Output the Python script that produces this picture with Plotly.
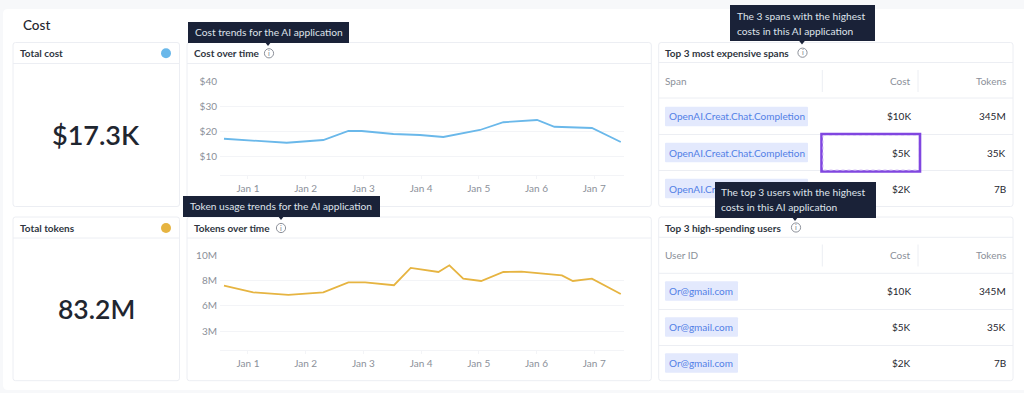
import plotly.graph_objects as go

FONT = "Lato"
W, H = 1024, 393

# ---- data ----
day_ticks = [1, 2, 3, 4, 5, 6, 7]
day_labels = ["Jan 1", "Jan 2", "Jan 3", "Jan 4", "Jan 5", "Jan 6", "Jan 7"]

cost_days = [0.584, 1.67, 2.305, 2.74, 2.97, 3.52, 3.98, 4.385, 5.02, 5.425, 6.01, 6.31, 6.96, 7.46]
cost_values = [16.9, 15.3, 16.4, 20.0, 20.0, 18.8, 18.4, 17.6, 20.4, 23.5, 24.4, 21.7, 21.2, 15.6]
cost_ticks = [10, 20, 30, 40]
cost_tick_labels = ["$10", "$20", "$30", "$40"]

token_days = [0.584, 1.09, 1.70, 2.305, 2.74, 3.03, 3.53, 3.82, 4.30, 4.49, 4.73, 5.04, 5.425, 5.74, 6.44, 6.63, 6.96, 7.46]
token_values = [7.0, 6.34, 6.08, 6.34, 7.33, 7.33, 7.04, 8.75, 8.35, 9.01, 7.69, 7.46, 8.35, 8.38, 8.02, 7.46, 7.69, 6.18]
token_ticks = [2.5, 5, 7.5, 10]
token_tick_labels = ["3M", "6M", "8M", "10M"]

total_cost = "$17.3K"
total_tokens = "83.2M"
span_names = ["OpenAI.Creat.Chat.Completion"] * 3
user_names = ["Or@gmail.com"] * 3
row_costs = ["$10K", "$5K", "$2K"]
row_tokens = ["345M", "35K", "7B"]

# ---- colours ----
BLUE = "#6ab8ea"
GOLD = "#e6b441"
BORDER = "#eceef3"
GRID = "#f3f4f7"
MUTED = "#8b9099"
DARK = "#1f2630"
NAVY = "#1a2238"
CHIP = "#e3e9fd"
LINK = "#5280e6"
PURPLE = "#8046e0"
TS = 10


def px(x):
    return x / W


def py(y):
    return 1 - y / H


shapes, annotations = [], []


def rect(x0, y0, x1, y1, fill=None, line=None, width=1, dash=None, radius=0):
    if radius:
        r = radius
        a, b, c, d = px(x0), px(x1), py(y0), py(y1)
        rx, ry = r / W, r / H
        path = (f"M {a+rx} {c} L {b-rx} {c} Q {b} {c} {b} {c-ry} L {b} {d+ry} Q {b} {d} {b-rx} {d} "
                f"L {a+rx} {d} Q {a} {d} {a} {d+ry} L {a} {c-ry} Q {a} {c} {a+rx} {c} Z")
        shapes.append(dict(type="path", path=path, xref="paper", yref="paper", fillcolor=fill or "rgba(0,0,0,0)",
                           line=dict(color=line or "rgba(0,0,0,0)", width=width), layer="below"))
    else:
        shapes.append(dict(type="rect", xref="paper", yref="paper", x0=px(x0), x1=px(x1), y0=py(y0), y1=py(y1),
                           fillcolor=fill or "rgba(0,0,0,0)",
                           line=dict(color=line or "rgba(0,0,0,0)", width=width, dash=dash or "solid"), layer="below"))


def hline(x0, x1, y, color=BORDER, width=1):
    shapes.append(dict(type="line", xref="paper", yref="paper", x0=px(x0), x1=px(x1), y0=py(y), y1=py(y),
                       line=dict(color=color, width=width), layer="below"))


def vline(x, y0, y1, color=BORDER, width=1):
    shapes.append(dict(type="line", xref="paper", yref="paper", x0=px(x), x1=px(x), y0=py(y0), y1=py(y1),
                       line=dict(color=color, width=width), layer="below"))


def text(x, y, s, size=TS, color=DARK, anchor="left", weight=400):
    annotations.append(dict(x=px(x), y=py(y), xref="paper", yref="paper", text=s, showarrow=False,
                            xanchor=anchor, yanchor="middle", borderpad=0, borderwidth=0,
                            font=dict(family=FONT, size=size, color=color, weight=weight)))


def circle(cx, cy, r, fill=None, line=None, width=1):
    shapes.append(dict(type="circle", xref="paper", yref="paper", x0=px(cx - r), x1=px(cx + r),
                       y0=py(cy + r), y1=py(cy - r), fillcolor=fill or "rgba(0,0,0,0)",
                       line=dict(color=line or "rgba(0,0,0,0)", width=width), layer="below"))


def info(cx, cy):
    circle(cx, cy, 4.6, fill="white", line="#80858e", width=0.9)
    text(cx, cy, "i", size=7.5, color="#80858e", anchor="center")


def tooltip(x0, y0, x1, y1, tip_x, lines, tx, ys):
    shapes.append(dict(type="path", xref="paper", yref="paper",
                       path=f"M {px(tip_x-3.5)} {py(y1-1)} L {px(tip_x+3.5)} {py(y1-1)} L {px(tip_x)} {py(y1+3.5)} Z",
                       fillcolor=NAVY, line=dict(width=0), layer="above"))
    annotations.append(dict(x=px(x0), y=py(y0), xref="paper", yref="paper", text="\u00a0", showarrow=False,
                            xanchor="left", yanchor="top", width=x1 - x0, height=y1 - y0, bgcolor=NAVY,
                            borderpad=0, borderwidth=0, font=dict(family=FONT, size=8, color=NAVY)))
    for s, y in zip(lines, ys):
        text(tx, y, s, size=10.2, color="#dfe3ea")


# ---- page ----
rect(3, 9, 1040, 390, fill="white", radius=5)

# ---- panels ----
for (x0, x1, y0, y1, yh) in [(13, 179.5, 42.5, 206.5, 63.5), (187, 651.3, 42.5, 206.5, 63.5),
                              (658.7, 1013, 42.5, 206.5, 62.5), (13, 179.5, 217, 380.7, 238),
                              (187, 651.3, 217, 380.7, 238), (658.7, 1013, 217, 380.7, 237.3)]:
    rect(x0, y0, x1, y1, fill="white", line=BORDER, radius=2.5)
    hline(x0, x1, yh)

text(22.5, 25, "Cost", size=13.5, weight=500)

# metric panels
text(20, 53.3, "Total cost", size=TS, weight=700, color="#30363f")
circle(166, 53.3, 5, fill=BLUE)
text(96, 134, total_cost, size=27, anchor="center", weight=600)
text(20, 228, "Total tokens", size=TS, weight=700, color="#30363f")
circle(166, 228, 5, fill=GOLD)
text(96, 309, total_tokens, size=26.5, anchor="center", weight=600)

# chart titles
text(194, 53.3, "Cost over time", size=TS, weight=700, color="#30363f")
info(269, 53.3)
text(194, 228, "Tokens over time", size=TS, weight=700, color="#30363f")
info(281, 228)


# tables
def table(title, icon_x, head, names, chip_w, top, line_ys, title_y):
    text(665, title_y, title, size=TS, weight=700, color="#30363f")
    info(icon_x, title_y)
    text(665, top + 38.5, head, size=TS, color=MUTED)
    text(911, top + 38.5, "Cost", size=TS, color=MUTED, anchor="right")
    text(1006, top + 38.5, "Tokens", size=TS, color=MUTED, anchor="right")
    vline(822.3, top + 27.5, top + 49.5)
    vline(918, top + 27.5, top + 49.5)
    for y in line_ys:
        hline(658.7, 1013, y)
    for i in range(3):
        yc = top + 74 + 36 * i
        rect(665, yc - 9.7, 665 + chip_w, yc + 9.7, fill=CHIP, radius=1)
        text(668.5, yc, names[i], size=TS, color=LINK)
        text(911, yc, row_costs[i], size=TS, color=DARK, anchor="right")
        text(1006, yc, row_tokens[i], size=TS, color=DARK, anchor="right")


table("Top 3 most expensive spans", 802.5, "Span", span_names, 143, 42.5, [98, 134.5, 170.5], 52.7)
table("Top 3 high-spending users", 796, "User ID", user_names, 73, 217, [273.3, 309.5, 345.5], 227.5)

# highlighted cell
rect(821.5, 134, 920, 171.5, line=PURPLE, width=2.6)
rect(823, 135.5, 918.5, 170, line="#d6c3f6", width=1, dash="dot")

# tooltips (later ones paint over earlier text)
tooltip(188, 22, 348.5, 42.5, 268, ["Cost trends for the AI application"], 194.5, [32])
tooltip(183, 195.5, 379.5, 216.5, 281, ["Token usage trends for the AI application"], 190, [206])
tooltip(730, 5, 875, 41, 802, ["The 3 spans with the highest", "costs in this AI application"], 736.5, [16, 30.7])
tooltip(714.5, 181.5, 875, 217.5, 795, ["The top 3 users with the highest", "costs in this AI application"], 721, [192, 207])

fig = go.Figure()
fig.add_trace(go.Scatter(x=cost_days, y=cost_values, mode="lines", line=dict(color=BLUE, width=1.8),
                         xaxis="x", yaxis="y", showlegend=False, hoverinfo="skip"))
fig.add_trace(go.Scatter(x=token_days, y=token_values, mode="lines", line=dict(color=GOLD, width=1.8),
                         xaxis="x2", yaxis="y2", showlegend=False, hoverinfo="skip"))

xcommon = dict(range=[0.515, 7.516], tickvals=day_ticks, ticktext=day_labels, showgrid=False, zeroline=False,
               showline=True, linecolor=GRID, linewidth=1, ticks="outside", ticklen=3, tickcolor=GRID,
               ticklabelstandoff=1, tickfont=dict(family=FONT, size=10, color=MUTED))
ycommon = dict(showgrid=True, gridcolor=GRID, gridwidth=1, zeroline=False, showline=False, ticks="",
               ticklabelstandoff=2, tickfont=dict(family=FONT, size=10, color=MUTED))
xdomain = [px(220), px(624)]

fig.update_layout(
    width=W, height=H, autosize=False, margin=dict(l=0, r=0, t=0, b=0, pad=0, autoexpand=False),
    paper_bgcolor="#f7f8fa", plot_bgcolor="rgba(0,0,0,0)", showlegend=False,
    font=dict(family=FONT),
    shapes=shapes, annotations=annotations,
    xaxis=dict(domain=xdomain, anchor="y", **xcommon),
    yaxis=dict(domain=[py(175.3), py(81)], anchor="x", range=[2.28, 40], tickvals=cost_ticks,
               ticktext=cost_tick_labels, **ycommon),
    xaxis2=dict(domain=xdomain, anchor="y2", **xcommon),
    yaxis2=dict(domain=[py(349.7), py(255.3)], anchor="x2", range=[0.67, 10], tickvals=token_ticks,
                ticktext=token_tick_labels, **ycommon),
)

fig.write_html("out.html", config=dict(displayModeBar=False),
               post_script="document.body.style.margin='0';document.body.style.overflow='hidden';")
